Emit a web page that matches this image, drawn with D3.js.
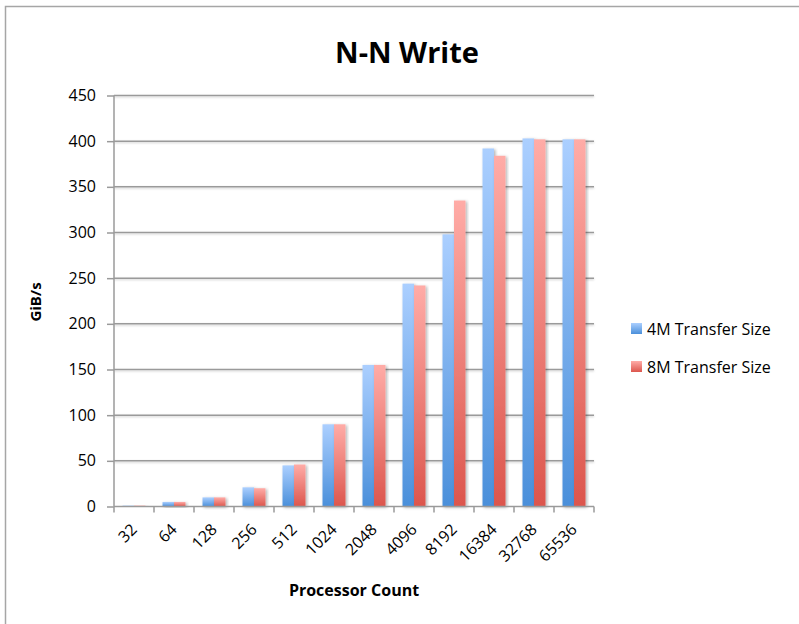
<!DOCTYPE html>
<html>
<head>
<meta charset="utf-8">
<script src="https://cdn.jsdelivr.net/npm/d3@7"></script>
<style>
  html, body { margin: 0; padding: 0; background: #fff; }
  svg { display: block; }
  text { font-family: "Open Sans", "Liberation Sans", sans-serif; fill: #000; }
</style>
</head>
<body>
<svg id="chart" width="799" height="624"></svg>
<script>
// Processor counts on the x axis
const categories = ["32", "64", "128", "256", "512", "1024", "2048", "4096", "8192", "16384", "32768", "65536"];
// Write bandwidth (GiB/s) for each transfer size
const series4M = [1, 5, 10, 21, 45, 90, 155, 244, 298, 392, 403, 402];
const series8M = [1, 5, 10, 20, 46, 90, 155, 242, 335, 384, 402, 402];
const seriesNames = ["4M Transfer Size", "8M Transfer Size"];
const yTicks = [0, 50, 100, 150, 200, 250, 300, 350, 400, 450];

const svg = d3.select("#chart");
const plotLeft = 114, plotRight = 594, plotTop = 95.5, plotBottom = 506.5;

const defs = svg.append("defs");
const grads = [
  { id: "gBlue", top: "#abcfff", bottom: "#4a8fda" },
  { id: "gRed", top: "#ffaca7", bottom: "#dc564d" }
];
grads.forEach(g => {
  const lg = defs.append("linearGradient").attr("id", g.id)
    .attr("x1", 0).attr("y1", 0).attr("x2", 0).attr("y2", 1);
  lg.append("stop").attr("offset", "0%").attr("stop-color", g.top);
  lg.append("stop").attr("offset", "100%").attr("stop-color", g.bottom);
});
const shadow = defs.append("filter").attr("id", "shadow")
  .attr("x", "-30%").attr("y", "-30%").attr("width", "160%").attr("height", "160%");
shadow.append("feDropShadow").attr("dx", 1.5).attr("dy", 1).attr("stdDeviation", 1.5)
  .attr("flood-color", "#000").attr("flood-opacity", 0.3);
const lineShadow = defs.append("filter").attr("id", "lineShadow")
  .attr("filterUnits", "userSpaceOnUse")
  .attr("x", 100).attr("y", 80).attr("width", 510).attr("height", 440);
lineShadow.append("feDropShadow").attr("dx", 0).attr("dy", 1).attr("stdDeviation", 0.8)
  .attr("flood-color", "#000").attr("flood-opacity", 0.2);

// Chart frame
svg.append("rect").attr("x", 5.5).attr("y", 6.5).attr("width", 800).attr("height", 640)
  .attr("fill", "none").attr("stroke", "#a6a6a6").attr("stroke-width", 1.5);

// Title
svg.append("text").attr("x", 407).attr("y", 63).attr("text-anchor", "middle")
  .attr("font-size", 29).attr("font-weight", "bold").text("N-N Write");

const x = d3.scaleBand().domain(categories).range([plotLeft, plotRight]).paddingInner(0).paddingOuter(0);
const inner = d3.scaleBand().domain(seriesNames).range([0, x.bandwidth()]).paddingInner(0).paddingOuter(0.74);
const y = d3.scaleLinear().domain([0, 450]).range([plotBottom, plotTop]);

// Horizontal gridlines
svg.append("g").attr("filter", "url(#lineShadow)")
  .selectAll("line").data(yTicks.filter(d => d > 0)).join("line")
  .attr("x1", plotLeft).attr("x2", plotRight)
  .attr("y1", d => y(d)).attr("y2", d => y(d))
  .attr("stroke", "#9a9a9a").attr("stroke-width", 1.5);

// Bars
const groups = svg.append("g").selectAll("g").data(categories).join("g")
  .attr("transform", d => `translate(${x(d)},0)`);
const seriesData = [series4M, series8M];
seriesNames.forEach((name, si) => {
  groups.append("rect")
    .attr("x", inner(name))
    .attr("width", inner.bandwidth())
    .attr("y", (d, i) => y(seriesData[si][i]))
    .attr("height", (d, i) => plotBottom - y(seriesData[si][i]))
    .attr("fill", si === 0 ? "url(#gBlue)" : "url(#gRed)")
    .attr("filter", "url(#shadow)");
});

// Y axis
const yAxis = svg.append("g").attr("transform", `translate(${plotLeft},0)`)
  .call(d3.axisLeft(y).tickValues(yTicks).tickSize(7).tickPadding(11));
yAxis.select(".domain").attr("stroke", "#9a9a9a").attr("stroke-width", 1.5)
  .attr("d", `M0,${plotTop}V${plotBottom}`);
yAxis.selectAll(".tick line").attr("stroke", "#9a9a9a").attr("stroke-width", 1.5);
yAxis.selectAll(".tick text").attr("font-size", 16).attr("fill", "#000")
  .style("font-family", "'Open Sans', sans-serif");

// X axis with ticks at category boundaries
const xAxis = svg.append("g").attr("transform", `translate(0,${plotBottom})`);
xAxis.append("line").attr("x1", plotLeft).attr("x2", plotRight).attr("y1", 0).attr("y2", 0)
  .attr("stroke", "#9a9a9a").attr("stroke-width", 1.5);
const bounds = categories.map(c => x(c)).concat([plotRight]);
xAxis.selectAll("line.tk").data(bounds).join("line").attr("class", "tk")
  .attr("x1", d => d).attr("x2", d => d).attr("y1", 0).attr("y2", 6)
  .attr("stroke", "#9a9a9a").attr("stroke-width", 1.5);
xAxis.selectAll("text").data(categories).join("text")
  .attr("transform", d => `translate(${x(d) + x.bandwidth() / 2 + 0},${20}) rotate(-45)`)
  .attr("text-anchor", "end").attr("dy", "0.35em")
  .attr("font-size", 16).text(d => d);

// Axis titles
svg.append("text").attr("transform", "translate(41,302) rotate(-90)")
  .attr("text-anchor", "middle").attr("font-size", 15).attr("font-weight", "bold").text("GiB/s");
svg.append("text").attr("x", 354).attr("y", 596).attr("text-anchor", "middle")
  .attr("font-size", 16).attr("font-weight", "bold").text("Processor Count");

// Legend
const legend = svg.append("g").selectAll("g").data(seriesNames).join("g")
  .attr("transform", (d, i) => `translate(631,${323 + i * 38})`);
legend.append("rect").attr("width", 11).attr("height", 11)
  .attr("fill", (d, i) => i === 0 ? "url(#gBlue)" : "url(#gRed)");
legend.append("text").attr("x", 16).attr("y", 11.5).attr("font-size", 16).text(d => d);
</script>
</body>
</html>
